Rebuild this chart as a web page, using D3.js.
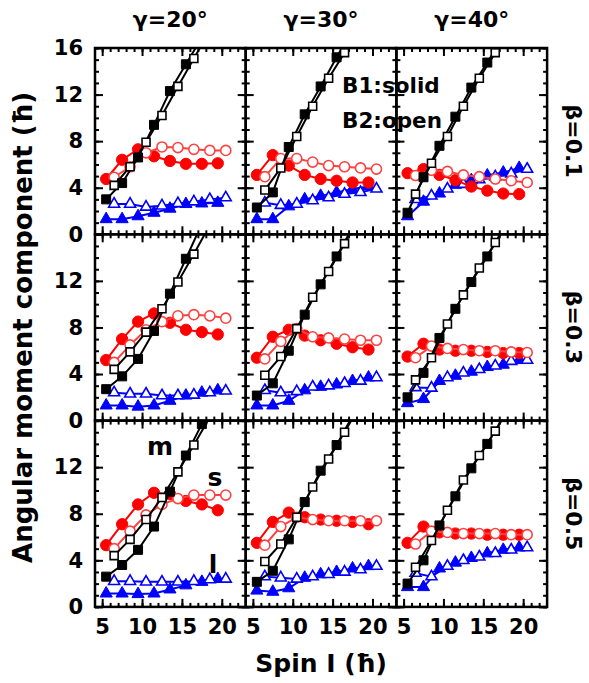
<!DOCTYPE html>
<html>
<head>
<meta charset="utf-8">
<script src="https://cdn.jsdelivr.net/npm/d3@7/dist/d3.min.js"></script>
<style>
body { margin: 0; background: #fff; }
svg text { font-family: "DejaVu Sans", sans-serif; font-weight: bold; fill: #000; }
.tick line { stroke: #000; stroke-width: 2; }
</style>
</head>
<body>
<svg id="chart" width="589" height="683"></svg>
<script>
// column / row titles
var gammas = ['γ=20°', 'γ=30°', 'γ=40°'];
var betas = ['β=0.1', 'β=0.3', 'β=0.5'];

// spins of the two bands
var spinB1 = [5.5, 7.5, 9.5, 11.5, 13.5, 15.5, 17.5, 19.5];
var spinB2 = [6.5, 8.5, 10.5, 12.5, 14.5, 16.5, 18.5, 20.5];

var xTicks = [5, 10, 15, 20];
var yTicks = [0, 4, 8, 12, 16];

// panels in reading order: (β0.1: γ20, γ30, γ40), (β0.3: ...), (β0.5: ...)
// m component (black squares)
var mB1 = [
    [3.0, 4.4, 6.6, 9.4, 12.3, 14.6, 16.9],
    [2.3, 3.6, 7.5, 10.3, 12.7, 15.2, 17.6],
    [1.85, 4.9, 7.6, 10.1, 12.6, 14.75, 17.0],
    [2.7, 3.8, 5.3, 7.7, 10.9, 13.9, 16.9],
    [2.15, 3.2, 6.0, 9.1, 11.7, 14.1, 16.6],
    [2.0, 4.1, 7.1, 9.6, 11.9, 14.1, 16.4],
    [2.6, 3.6, 4.9, 6.9, 9.9, 13.0, 15.7, 18.4],
    [2.15, 3.1, 5.8, 9.0, 11.7, 13.9, 16.4],
    [2.0, 4.0, 7.0, 9.5, 11.9, 14.0, 16.3]
];
var mB2 = [
    [4.2, 5.8, 7.9, 10.2, 12.7, 15.1, 17.5],
    [3.8, 5.7, 8.4, 11.0, 13.4, 15.6, 18.0],
    [3.45, 6.1, 8.4, 11.0, 13.4, 15.6, 18.0],
    [4.4, 5.9, 7.6, 9.6, 11.9, 14.3, 16.8],
    [3.9, 5.5, 7.9, 10.6, 12.8, 15.2, 17.6],
    [3.5, 5.4, 8.3, 10.8, 13.1, 15.3, 17.6],
    [4.4, 5.8, 7.5, 9.4, 11.6, 13.9, 16.3],
    [3.9, 5.4, 7.7, 10.3, 12.7, 15.0, 17.4],
    [3.4, 5.7, 8.3, 10.9, 13.0, 15.1, 17.4]
];
// s component (red circles)
var sB1 = [
    [4.75, 6.4, 7.3, 6.7, 6.3, 6.05, 6.05, 6.1],
    [5.1, 6.8, 5.9, 5.1, 4.75, 4.6, 4.45, 4.45],
    [5.25, 5.6, 5.1, 4.65, 4.1, 3.75, 3.5, 3.45],
    [5.2, 7.0, 8.5, 9.2, 8.4, 7.8, 7.6, 7.4],
    [5.4, 7.2, 7.8, 7.3, 6.9, 6.6, 6.3, 6.1],
    [5.5, 6.6, 6.1, 6.0, 6.0, 5.9, 5.8, 5.8],
    [5.3, 7.1, 8.8, 9.8, 9.7, 9.1, 8.8, 8.3],
    [5.5, 7.3, 8.1, 7.7, 7.5, 7.4, 7.3, 7.1],
    [5.5, 6.9, 6.4, 6.3, 6.3, 6.2, 6.2, 6.2]
];
var sB2 = [
    [4.9, 5.8, 7.0, 7.5, 7.45, 7.3, 7.2, 7.2],
    [4.95, 6.5, 6.5, 6.2, 5.9, 5.8, 5.7, 5.6],
    [5.05, 5.5, 5.4, 5.1, 4.95, 4.75, 4.6, 4.45],
    [5.0, 6.5, 7.8, 8.5, 9.0, 9.1, 9.0, 8.8],
    [5.3, 6.8, 7.9, 7.2, 7.1, 7.0, 6.9, 6.9],
    [5.4, 6.4, 6.2, 6.1, 6.0, 6.0, 5.9, 5.85],
    [5.0, 6.5, 7.9, 8.8, 9.3, 9.6, 9.6, 9.6],
    [5.3, 6.9, 7.7, 7.5, 7.4, 7.4, 7.4, 7.4],
    [5.4, 6.5, 6.4, 6.3, 6.3, 6.3, 6.2, 6.2]
];
// l component (blue triangles)
var lB1 = [
    [1.3, 1.3, 1.55, 1.85, 2.2, 2.6, 2.65, 2.7],
    [1.3, 1.3, 2.4, 3.0, 3.3, 3.6, 3.9, 4.1],
    [1.55, 2.8, 3.5, 4.25, 4.65, 5.05, 5.3, 5.7],
    [1.3, 1.3, 1.2, 1.3, 1.7, 2.15, 2.4, 2.6],
    [1.3, 1.3, 1.7, 2.6, 2.9, 3.1, 3.4, 3.7],
    [1.5, 1.85, 3.4, 3.85, 4.2, 4.6, 4.8, 5.2],
    [1.15, 1.15, 1.1, 1.15, 1.5, 1.85, 2.15, 2.4],
    [1.4, 1.3, 1.6, 2.5, 2.8, 3.0, 3.3, 3.5],
    [1.7, 1.7, 3.3, 3.8, 4.2, 4.6, 4.9, 5.1]
];
var lB2 = [
    [2.6, 2.6, 2.35, 2.45, 2.65, 2.8, 3.0, 3.15],
    [2.7, 2.5, 2.6, 2.9, 3.15, 3.45, 3.6, 3.9],
    [3.0, 3.3, 3.9, 4.3, 4.7, 4.95, 5.2, 5.6],
    [2.4, 2.3, 2.3, 2.15, 2.15, 2.2, 2.4, 2.55],
    [2.6, 2.4, 2.5, 2.9, 3.0, 3.2, 3.4, 3.7],
    [2.85, 2.8, 3.7, 4.1, 4.4, 4.7, 5.1, 5.2],
    [2.2, 2.2, 2.15, 2.15, 2.15, 2.2, 2.35, 2.4],
    [2.6, 2.5, 2.4, 2.6, 2.8, 3.0, 3.2, 3.5],
    [2.9, 2.6, 3.5, 4.0, 4.3, 4.6, 4.9, 5.1]
];

var svg = d3.select('#chart');

var LEFT = 95, TOP = 48;
var panelW = 150.7, panelH = 186.3;

var x = d3.scaleLinear().domain([4.1, 23.0]).range([0, panelW]);
var y = d3.scaleLinear().domain([0, 16]).range([panelH, 0]);

var xMinor = d3.range(5, 23);
var yMinor = d3.range(0, 17);

// drawing order: blue, red, black; solid first, open on top
var series = [
    {values: lB1, spins: spinB1, color: '#0000ff', type: d3.symbolTriangle, size: 64, open: false},
    {values: lB2, spins: spinB2, color: '#0000ff', type: d3.symbolTriangle, size: 52, open: true},
    {values: sB1, spins: spinB1, color: '#ff0000', type: d3.symbolCircle, size: 100, open: false},
    {values: sB2, spins: spinB2, color: '#ff4040', type: d3.symbolCircle, size: 80, open: true},
    {values: mB1, spins: spinB1, color: '#000000', type: d3.symbolSquare, size: 81, open: false},
    {values: mB2, spins: spinB2, color: '#000000', type: d3.symbolSquare, size: 64, open: true}
];

var line = d3.line()
    .x(function(d) { return x(d[0]); })
    .y(function(d) { return y(d[1]); });

for (var r = 0; r < 3; r++) {
    for (var c = 0; c < 3; c++) {
        var idx = r * 3 + c;
        var g = svg.append('g')
            .attr('transform', 'translate(' + (LEFT + c * panelW) + ',' + (TOP + r * panelH) + ')');

        g.append('clipPath').attr('id', 'clip' + idx)
            .append('rect').attr('width', panelW).attr('height', panelH);

        // ticks on all four sides, pointing inward
        function addAxis(axis, tx, ty, vals, len, fmt) {
            var a = g.append('g')
                .attr('transform', 'translate(' + tx + ',' + ty + ')')
                .call(axis.tickValues(vals).tickSize(-len).tickFormat(fmt || '').tickPadding(12));
            a.select('.domain').remove();
            a.selectAll('text').style('font-size', '21px').style('font-family', '"DejaVu Sans", sans-serif').style('font-weight', 'bold');
            return a;
        }
        addAxis(d3.axisBottom(x), 0, panelH, xMinor, 4);
        addAxis(d3.axisBottom(x), 0, panelH, xTicks, 8, r === 2 ? d3.format('d') : '');
        addAxis(d3.axisTop(x), 0, 0, xMinor, 4);
        addAxis(d3.axisTop(x), 0, 0, xTicks, 8);
        addAxis(d3.axisLeft(y), 0, 0, yMinor, 4);
        var yLabels = r === 0 ? yTicks : yTicks.slice(0, 4);
        addAxis(d3.axisLeft(y), 0, 0, yTicks, 8, function(d) {
            return (c === 0 && yLabels.indexOf(d) >= 0) ? d : '';
        });
        addAxis(d3.axisRight(y), panelW, 0, yMinor, 4);
        addAxis(d3.axisRight(y), panelW, 0, yTicks, 8);

        var plot = g.append('g').attr('clip-path', 'url(#clip' + idx + ')');

        series.forEach(function(s) {
            var pts = s.values[idx].map(function(v, i) { return [s.spins[i], v]; });
            plot.append('path')
                .datum(pts)
                .attr('d', line)
                .attr('fill', 'none')
                .attr('stroke', s.color)
                .attr('stroke-width', 2);
            plot.selectAll(null)
                .data(pts)
                .enter().append('path')
                .attr('transform', function(d) { return 'translate(' + x(d[0]) + ',' + y(d[1]) + ')'; })
                .attr('d', d3.symbol().type(s.type).size(s.size))
                .attr('fill', s.open ? '#fff' : s.color)
                .attr('stroke', s.color)
                .attr('stroke-width', s.open ? 1.6 : 1);
        });

        g.append('rect')
            .attr('width', panelW)
            .attr('height', panelH)
            .attr('fill', 'none')
            .attr('stroke', '#000')
            .attr('stroke-width', 2.5);
    }
}

// column titles
svg.selectAll('.gamma')
    .data(gammas)
    .enter().append('text')
    .attr('class', 'gamma')
    .attr('x', function(d, i) { return LEFT + (i + 0.5) * panelW; })
    .attr('y', 27)
    .attr('text-anchor', 'middle')
    .style('font-size', '22px')
    .text(function(d) { return d; });

// row titles
svg.selectAll('.beta')
    .data(betas)
    .enter().append('text')
    .attr('class', 'beta')
    .attr('transform', function(d, i) {
        return 'translate(566,' + (TOP + (i + 0.5) * panelH) + ') rotate(90)';
    })
    .attr('text-anchor', 'middle')
    .style('font-size', '22px')
    .text(function(d) { return d; });

// legend text in the top middle panel
svg.append('text').attr('x', 342).attr('y', 93).style('font-size', '21.5px').text('B1:solid');
svg.append('text').attr('x', 342).attr('y', 128).style('font-size', '21.5px').text('B2:open');

// component labels in the lower left panel
svg.append('text').attr('x', 160).attr('y', 455).attr('text-anchor', 'middle').style('font-size', '25px').text('m');
svg.append('text').attr('x', 215).attr('y', 486).attr('text-anchor', 'middle').style('font-size', '25px').text('s');
svg.append('text').attr('x', 213).attr('y', 573).attr('text-anchor', 'middle').style('font-size', '25px').text('l');

// axis titles
svg.append('text')
    .attr('transform', 'translate(32,' + (TOP + 1.5 * panelH) + ') rotate(-90)')
    .attr('text-anchor', 'middle')
    .style('font-size', '26px')
    .text('Angular moment component (ħ)');

svg.append('text')
    .attr('x', LEFT + 1.5 * panelW)
    .attr('y', 672)
    .attr('text-anchor', 'middle')
    .style('font-size', '25px')
    .text('Spin I (ħ)');
</script>
</body>
</html>
